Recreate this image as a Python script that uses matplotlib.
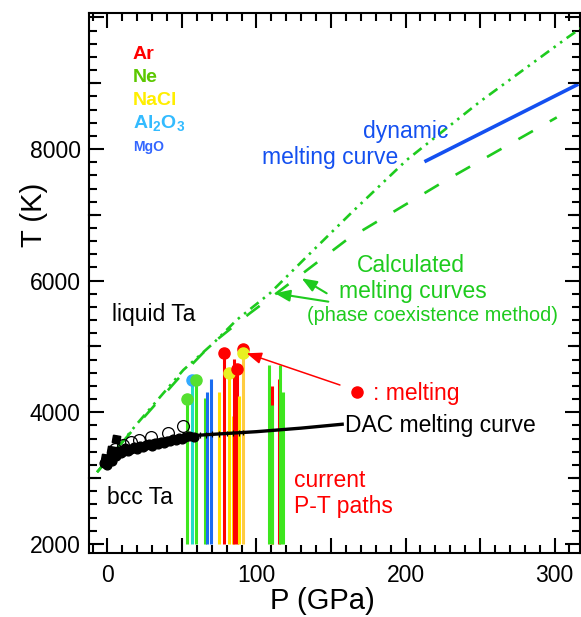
import matplotlib
matplotlib.use('Agg')
import matplotlib.pyplot as plt
from matplotlib.ticker import MultipleLocator, FuncFormatter

plt.rcParams['font.family'] = ['Liberation Sans', 'DejaVu Sans']
plt.rcParams['mathtext.fontset'] = 'custom'
plt.rcParams['mathtext.rm'] = 'Liberation Sans'
plt.rcParams['mathtext.bf'] = 'Liberation Sans:bold'
plt.rcParams['lines.scale_dashes'] = False

# ---------------- data ----------------
# calculated melting curve 1 (dash-dot-dot)
calc1_P = [-7, 0, 20, 50.9, 71, 86.7, 109, 133.7, 165, 200.8, 250, 308, 318]
calc1_T = [3090, 3280, 3830, 4643, 5049, 5403, 5808, 6364, 7060, 7833, 8720, 9682, 9840]
# calculated melting curve 2 (dashed)
calc2_P = [-7, 0, 20, 47, 70, 95.6, 118, 160.5, 227.7, 301.5]
calc2_T = [3090, 3280, 3810, 4500, 5040, 5506, 5886, 6620, 7532, 8480]
# dynamic melting curve
dyn_P = [212.7, 316]
dyn_T = [7807, 8985]
# DAC melting curve
dac_P = [2, 10, 20, 30, 42, 53, 70, 100, 130, 157.5]
dac_T = [3330, 3430, 3500, 3560, 3610, 3640, 3665, 3706, 3760, 3819]
# DAC data (filled circles)
dacpts_P = [-2, 0, 1, 3, 4, 6, 7, 9, 11, 12, 14, 16, 18, 20, 22, 24, 26, 28, 30, 32, 34,
            36, 38, 40, 42, 44, 46, 48, 50, 52, 55, 58]
dacpts_T = [3230, 3200, 3300, 3260, 3360, 3330, 3420, 3380, 3410, 3460, 3420, 3450, 3480,
            3440, 3490, 3470, 3500, 3520, 3490, 3540, 3520, 3550, 3530, 3570, 3560,
            3590, 3580, 3610, 3600, 3630, 3640, 3630]
dacerr_P = [57, 62, 66, 70, 75, 80, 84, 88, 91]
dacerr_T = [3650, 3655, 3660, 3665, 3672, 3678, 3684, 3690, 3694]
# open circles
open_P = [5, 10.2, 15.6, 21.1, 29, 40.3, 51]
open_T = [3440, 3505, 3556, 3581, 3632, 3693, 3793]
# other points (tilted squares)
dia_P = [-1.5, 2.5, 5.5]
dia_T = [3300, 3430, 3590]

# current P-T paths
path_P = [53.6, 56.5, 59.4, 65.2, 67.0, 69.7, 75.0, 78.2, 81.7, 84.0, 84.9, 86.7,
          88.5, 90.7, 108.4, 110.2, 110.6, 115.3, 115.8, 117.6]
path_Tmax = [4204, 4492, 4492, 4219, 4315, 4507, 4315, 4898, 4603, 3945, 4807, 4655,
             4250, 4960, 4720, 4400, 4113, 4507, 4720, 4315]
path_color = ['#3de61e', '#22dcc8', '#3de61e', '#3de61e', '#1a6cf0', '#1a6cf0',
              '#ffe000', '#ff0000', '#ffe000', '#ffe000', '#ff0000', '#ff0000',
              '#ffe000', '#ffcc40', '#3de61e', '#ff0000', '#3de61e', '#ff0000',
              '#3de61e', '#3de61e']
path_Tstart = 2000
# melting points
melt_P = [53.6, 56.5, 59.4, 78.2, 81.7, 86.7, 90.7, 90.7]
melt_T = [4204, 4492, 4492, 4898, 4603, 4655, 4959, 4898]
melt_color = ['#55e030', '#33aaff', '#55e030', '#ff0000', '#e8f020', '#ff0000',
              '#ff0000', '#e8f020']

GREEN = '#1ecb1e'
BLUE = '#1450f0'

# ---------------- figure ----------------
W, H = 581, 617
fig = plt.figure(figsize=(W / 100, H / 100), dpi=100)
ax = fig.add_axes([89 / W, 1 - 553 / H, 491 / W, 540 / H])
ax.set_xlim(-12.4, 317.1)
ax.set_ylim(1863, 10066)

# calculated curves
ax.plot(calc1_P, calc1_T, color=GREEN, lw=1.9,
        dashes=(7.5, 4.0, 1.8, 4.0, 1.8, 4.0), zorder=3)
ax.plot(calc2_P, calc2_T, color=GREEN, lw=1.9, dashes=(12, 14), zorder=3)
# dynamic curve
ax.plot(dyn_P, dyn_T, color=BLUE, lw=2.6, solid_capstyle='butt', zorder=3)

# P-T paths
ax.vlines(path_P, path_Tstart, path_Tmax, colors=path_color, lw=2.2, zorder=4)

# DAC
ax.plot(dacpts_P, dacpts_T, 'o', color='k', ms=6.3, zorder=5)
ax.plot(dac_P, dac_T, color='k', lw=2.4, zorder=5)
ax.errorbar(dacerr_P, dacerr_T, yerr=45, fmt='none', ecolor='k', elinewidth=0.9,
            capsize=0, zorder=5)
ax.plot(open_P, open_T, 'o', mfc='none', mec='k', mew=0.9, ms=8.5, zorder=5)
ax.plot(dia_P, dia_T, marker=(4, 0, 35), ls='none', color='k', ms=7.5, zorder=5)

# melting points
for p, t, c in zip(melt_P, melt_T, melt_color):
    ax.plot([p], [t], 'o', color=c, ms=8, mec=c, zorder=6)

# ---------------- texts ----------------
FS = 16.5
ax.text(171.5, 8167, 'dynamic', color=BLUE, fontsize=FS)
ax.text(103.7, 7772, 'melting curve', color=BLUE, fontsize=FS)
ax.text(167.4, 6136, 'Calculated', color=GREEN, fontsize=FS)
ax.text(155.4, 5741, 'melting curves', color=GREEN, fontsize=FS)
ax.text(133.9, 5391, '(phase coexistence method)', color=GREEN, fontsize=14.3)
ax.text(2.8, 5392, 'liquid Ta', color='k', fontsize=FS)
ax.text(-0.3, 2608, 'bcc Ta', color='k', fontsize=FS)
ax.plot([167.2], [4304], 'o', color='#ff0000', ms=8, zorder=6)
ax.text(178.2, 4187, ': melting', color='#ff0000', fontsize=FS)
ax.text(159.4, 3706, 'DAC melting curve', color='k', fontsize=FS)
ax.text(125.2, 2861, 'current', color='#ff0000', fontsize=FS)
ax.text(125.2, 2466, 'P-T paths', color='#ff0000', fontsize=FS)

ax.text(17.1, 9362, 'Ar', color='#ff0000', fontsize=14, fontweight='bold')
ax.text(17.1, 9023, 'Ne', color='#5cc800', fontsize=14, fontweight='bold')
ax.text(17.1, 8669, 'NaCl', color='#ffee00', fontsize=14, fontweight='bold')
ax.text(17.1, 8315, r'$\mathbf{Al_2O_3}$', color='#33bbff', fontsize=14)
ax.text(17.1, 7974, 'MgO', color='#3366ff', fontsize=10, fontweight='bold')

# arrows
ax.annotate('', xy=(130.3, 6036), xytext=(147.1, 5808),
            arrowprops=dict(arrowstyle='-|>,head_length=0.9,head_width=0.35',
                            color=GREEN, lw=1.5, shrinkA=0, shrinkB=0))
ax.annotate('', xy=(112.4, 5808), xytext=(148.2, 5681),
            arrowprops=dict(arrowstyle='-|>,head_length=0.9,head_width=0.35',
                            color=GREEN, lw=1.5, shrinkA=0, shrinkB=0))
ax.annotate('', xy=(93.4, 4897), xytext=(156, 4415),
            arrowprops=dict(arrowstyle='-|>,head_length=0.9,head_width=0.35',
                            color='#ff0000', lw=1.1, shrinkA=0, shrinkB=0), zorder=7)

# ---------------- axes styling ----------------
for s in ax.spines.values():
    s.set_linewidth(1.5)
ax.xaxis.set_major_locator(MultipleLocator(50))
ax.xaxis.set_minor_locator(MultipleLocator(10))
ax.xaxis.set_major_formatter(FuncFormatter(lambda v, p: '%d' % v if abs(v % 100) < 1e-6 else ''))
ax.yaxis.set_major_locator(MultipleLocator(2000))
ax.yaxis.set_minor_locator(MultipleLocator(200))
ax.yaxis.set_major_formatter(FuncFormatter(lambda v, p: '%d' % v if v < 9500 else ''))
ax.tick_params(which='both', direction='in', top=True, right=True, width=1.5)
ax.tick_params(which='major', length=10.8, labelsize=FS)
ax.tick_params(which='minor', length=5.5)
ax.tick_params(axis='x', which='major', pad=8)
ax.tick_params(axis='y', which='major', pad=6)
# medium ticks at odd thousands
ytr = ax.get_yaxis_transform()
for t in [3000, 5000, 7000, 9000]:
    ax.plot([0, 11 / 491], [t, t], color='k', lw=1.5, transform=ytr, clip_on=False, zorder=8)
    ax.plot([1 - 11 / 491, 1], [t, t], color='k', lw=1.5, transform=ytr, clip_on=False, zorder=8)

ax.set_xlabel('P (GPa)', fontsize=21)
ax.xaxis.set_label_coords((322.5 - 89) / 491, -34 / 540)
ax.set_ylabel('T (K)', fontsize=21)
ax.yaxis.set_label_coords(-0.083, (553 - 215) / 540)

fig.savefig('out.png', dpi=100)
